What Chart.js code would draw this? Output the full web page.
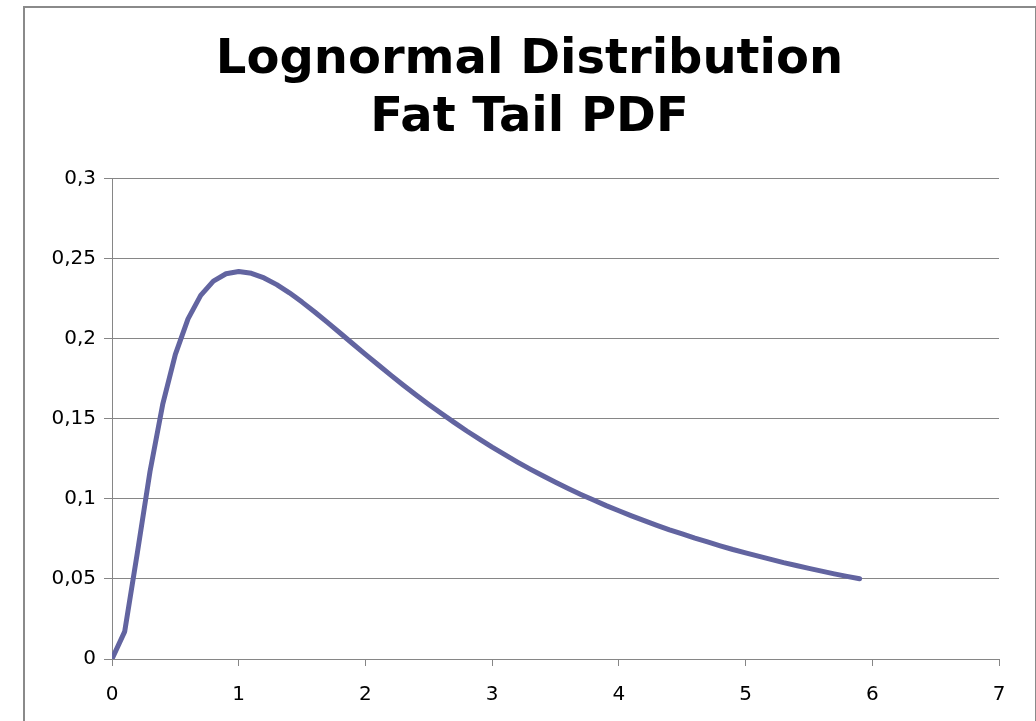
<!DOCTYPE html>
<html lang="en">
<head>
    <meta charset="UTF-8">
    <title>Lognormal Distribution Fat Tail PDF</title>
    <script src="https://cdn.jsdelivr.net/npm/chart.js"></script>
    <style>
        html, body { margin: 0; padding: 0; background: #fff; overflow: hidden; }
        #frame {
            position: absolute; left: 23px; top: 6px;
            width: 1010px; height: 760px;
            border: 2px solid #8a8a8a;
        }
        #wrap { position: absolute; left: 23px; top: 0; width: 1013px; height: 721px; }
    </style>
</head>
<body>
    <div id="frame"></div>
    <div id="wrap"><canvas id="grafico"></canvas></div>

    <script>
        // x values (step 0.1) and PDF values
        var xValues = [
            0, 0.1, 0.2, 0.3, 0.4, 0.5, 0.6, 0.7, 0.8, 0.9,
            1.0, 1.1, 1.2, 1.3, 1.4, 1.5, 1.6, 1.7, 1.8, 1.9,
            2.0, 2.1, 2.2, 2.3, 2.4, 2.5, 2.6, 2.7, 2.8, 2.9,
            3.0, 3.1, 3.2, 3.3, 3.4, 3.5, 3.6, 3.7, 3.8, 3.9,
            4.0, 4.1, 4.2, 4.3, 4.4, 4.5, 4.6, 4.7, 4.8, 4.9,
            5.0, 5.1, 5.2, 5.3, 5.4, 5.5, 5.6, 5.7, 5.8, 5.9
        ];
        var pdfValues = [
            0, 0.0171, 0.0663, 0.1172, 0.1590, 0.1903, 0.2124, 0.2271, 0.2360, 0.2406,
            0.2420, 0.2409, 0.2380, 0.2338, 0.2287, 0.2229, 0.2167, 0.2102, 0.2036, 0.1969,
            0.1903, 0.1838, 0.1773, 0.1710, 0.1649, 0.1590, 0.1533, 0.1478, 0.1424, 0.1373,
            0.1323, 0.1276, 0.1230, 0.1186, 0.1144, 0.1104, 0.1065, 0.1028, 0.0993, 0.0958,
            0.0926, 0.0894, 0.0864, 0.0835, 0.0807, 0.0781, 0.0755, 0.0731, 0.0707, 0.0684,
            0.0663, 0.0642, 0.0622, 0.0602, 0.0584, 0.0566, 0.0549, 0.0532, 0.0516, 0.0501
        ];
        var titleLines = ['Lognormal Distribution', 'Fat Tail PDF'];
        var xTicksMin = 0, xTicksMax = 7;
        var yTicksMin = 0, yTicksMax = 0.3, yStep = 0.05;

        var pontos = xValues.map(function (x, i) { return { x: x, y: pdfValues[i] }; });

        function virgula(v) {
            return (Math.round(v * 100) / 100).toString().replace('.', ',');
        }

        var ctx = document.getElementById('grafico').getContext('2d');
        var grafico = new Chart(ctx, {
            type: 'scatter',
            data: {
                datasets: [{
                    data: pontos,
                    showLine: true,
                    borderColor: '#6264a0',
                    borderWidth: 5,
                    pointRadius: 0,
                    pointHoverRadius: 0,
                    tension: 0,
                    borderCapStyle: 'round',
                    borderJoinStyle: 'round'
                }]
            },
            options: {
                responsive: true,
                maintainAspectRatio: false,
                animation: false,
                layout: { padding: 0 },
                plugins: {
                    legend: { display: false },
                    tooltip: { enabled: false },
                    title: {
                        display: true,
                        text: titleLines,
                        color: '#000',
                        font: { family: 'DejaVu Sans', size: 48, weight: 'bold', lineHeight: 1.21 },
                        padding: { top: 31, bottom: 31.5 }
                    }
                },
                scales: {
                    x: {
                        type: 'linear',
                        min: xTicksMin,
                        max: xTicksMax,
                        afterFit: function (scale) { scale.height = 62; },
                        ticks: {
                            stepSize: 1,
                            color: '#000',
                            padding: 17,
                            font: { family: 'DejaVu Sans', size: 20 }
                        },
                        grid: { drawOnChartArea: false, drawTicks: true, tickLength: 7, color: '#868686' },
                        border: { display: true, color: '#868686', width: 1 }
                    },
                    y: {
                        min: yTicksMin,
                        max: yTicksMax,
                        afterFit: function (scale) { scale.width = 89; },
                        ticks: {
                            stepSize: yStep,
                            color: '#000',
                            padding: 8,
                            font: { family: 'DejaVu Sans', size: 20 },
                            callback: function (v) { return virgula(v); }
                        },
                        grid: { drawTicks: true, tickLength: 8, color: '#868686' },
                        border: { display: true, color: '#868686', width: 1 }
                    },
                    // empty right-hand space so the plot ends at x=999
                    margem: {
                        position: 'right',
                        afterFit: function (scale) { scale.width = 37; },
                        ticks: { display: false },
                        grid: { display: false },
                        border: { display: false }
                    }
                }
            }
        });
    </script>
</body>
</html>
